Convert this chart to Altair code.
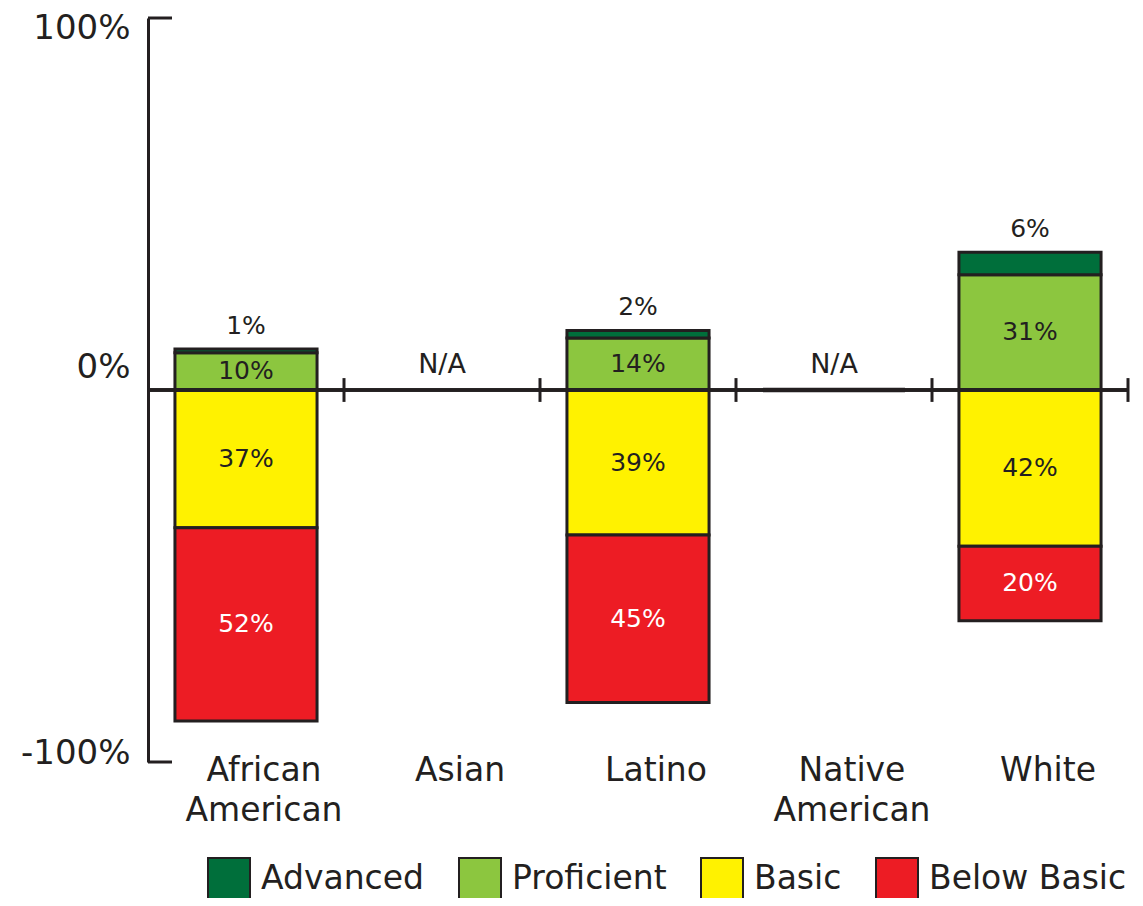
import altair as alt
import pandas as pd

# ---- data ----
categories = ["African American", "Asian", "Latino", "Native American", "White"]
levels = ["Advanced", "Proficient", "Basic", "Below Basic"]
level_colors = ["#006f3b", "#8cc63f", "#fff200", "#ed1c24"]
advanced = [1, None, 2, None, 6]
proficient = [10, None, 14, None, 31]
basic = [37, None, 39, None, 42]
below_basic = [52, None, 45, None, 20]
na_categories = ["Asian", "Native American"]
zero_outline_categories = ["Native American"]
y_ticks = [-100, 0, 100]
y_brackets = [100, -100]

INK = "#231f20"
FONT = "DejaVu Sans"
PAD_INNER = 0.275
WIDTH = 980
STEP = WIDTH / len(categories)

rows = []
for i, c in enumerate(categories):
    if proficient[i] is None:
        continue
    p, a, b, bb = proficient[i], advanced[i], basic[i], below_basic[i]
    segs = [
        ("Proficient", 0, p),
        ("Advanced", p, p + a),
        ("Basic", 0, -b),
        ("Below Basic", -b, -b - bb),
    ]
    vals = {"Proficient": p, "Advanced": a, "Basic": b, "Below Basic": bb}
    for lvl, y0, y1 in segs:
        rows.append({"cat": c, "level": lvl, "y": y0, "y2": y1,
                     "mid": (y0 + y1) / 2, "top": max(y0, y1),
                     "label": f"{vals[lvl]}%"})
df = pd.DataFrame(rows)
zero_df = pd.DataFrame({"cat": zero_outline_categories, "y": 0, "y2": 0})
na_df = pd.DataFrame({"cat": na_categories, "v": 0, "label": "N/A"})
cat_df = pd.DataFrame({"cat": categories})
bracket_df = pd.DataFrame({"v": y_brackets})

x_scale = alt.Scale(domain=categories, paddingInner=PAD_INNER, paddingOuter=PAD_INNER / 2)
y_scale = alt.Scale(domain=[-100, 100], nice=False)

x_enc = alt.X("cat:N", scale=x_scale, sort=categories, title=None,
              axis=alt.Axis(orient="bottom", domain=False, ticks=False, labelAngle=0,
                            labelExpr="split(datum.label, ' ')", labelFont=FONT,
                            labelFontSize=33, labelLineHeight=40, labelColor=INK,
                            labelPadding=-8, labelBaseline="top", labelOffset=18))
y_axis = alt.Axis(values=y_ticks, labelExpr="datum.value + '%'", ticks=False, grid=False,
                  domainColor=INK, domainWidth=3, labelFont=FONT, labelFontSize=34,
                  labelColor=INK, labelPadding=18,
                  labelOffset={"condition": [{"test": "datum.value == 100", "value": 10},
                                             {"test": "datum.value == 0", "value": -23}],
                               "value": -9})

bars = alt.Chart(df).mark_bar(stroke=INK, strokeWidth=3).encode(
    x=x_enc,
    y=alt.Y("y:Q", scale=y_scale, axis=y_axis, title=None),
    y2="y2:Q",
    color=alt.Color("level:N", scale=alt.Scale(domain=levels, range=level_colors),
                    legend=alt.Legend(title=None, orient="none", legendX=59, legendY=839,
                                      direction="horizontal", symbolType="square",
                                      symbolSize=1764, symbolStrokeColor=INK,
                                      symbolStrokeWidth=2, symbolOpacity=1,
                                      labelFont=FONT, labelFontSize=33, labelColor=INK,
                                      labelLimit=400, labelOffset=10, columnPadding=30,
                                      padding=0)),
)

zero_bar = alt.Chart(zero_df).mark_bar(stroke=INK, strokeWidth=4.5, fill=INK).encode(
    x=alt.X("cat:N", scale=x_scale, sort=categories),
    y=alt.Y("y:Q", scale=y_scale),
    y2="y2:Q",
)

zero_line = alt.Chart(cat_df).mark_rule(color=INK, strokeWidth=3).encode(
    y=alt.datum(0, scale=y_scale)
)

cross_ticks = alt.Chart(cat_df).mark_rule(
    color=INK, strokeWidth=3, xOffset=STEP * PAD_INNER / 2).encode(
    x=alt.X("cat:N", scale=x_scale, sort=categories, bandPosition=1),
    y=alt.datum(-3.2),
    y2=alt.datum(3.2),
)

brackets = alt.Chart(bracket_df).mark_rule(color=INK, strokeWidth=3).encode(
    y=alt.Y("v:Q", scale=y_scale),
    x=alt.value(0),
    x2=alt.value(24),
)

inner = df[df["level"] != "Advanced"]
dark_text = alt.Chart(inner[inner["level"] != "Below Basic"]).mark_text(
    font=FONT, fontSize=25, color=INK, baseline="middle").encode(
    x=alt.X("cat:N", scale=x_scale, sort=categories),
    y=alt.Y("mid:Q", scale=y_scale),
    text="label:N",
)
white_text = alt.Chart(inner[inner["level"] == "Below Basic"]).mark_text(
    font=FONT, fontSize=25, color="white", baseline="middle").encode(
    x=alt.X("cat:N", scale=x_scale, sort=categories),
    y=alt.Y("mid:Q", scale=y_scale),
    text="label:N",
)
adv_text = alt.Chart(df[df["level"] == "Advanced"]).mark_text(
    font=FONT, fontSize=25, color=INK, baseline="bottom", dy=-10).encode(
    x=alt.X("cat:N", scale=x_scale, sort=categories),
    y=alt.Y("top:Q", scale=y_scale),
    text="label:N",
)
na_text = alt.Chart(na_df).mark_text(
    font=FONT, fontSize=27, color=INK, baseline="bottom", dy=-11).encode(
    x=alt.X("cat:N", scale=x_scale, sort=categories),
    y=alt.Y("v:Q", scale=y_scale),
    text="label:N",
)

chart = alt.layer(
    bars, zero_line, zero_bar, cross_ticks, brackets,
    dark_text, white_text, adv_text, na_text
).properties(
    width=WIDTH, height=744,
    autosize=alt.AutoSizeParams(type="none"),
    padding={"left": 140, "top": 10, "right": 7, "bottom": 136},
).configure_view(strokeWidth=0)

chart.save("out.html", embed_options={"renderer": "svg", "actions": False})
